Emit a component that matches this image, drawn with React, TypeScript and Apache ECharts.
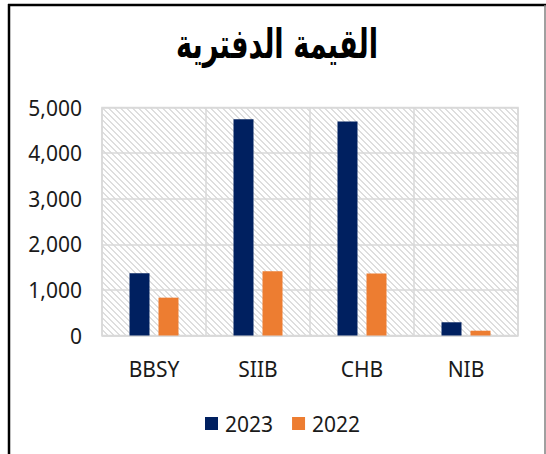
import React, { useEffect, useRef } from "react";
import * as echarts from "echarts";

const titleText = "القيمة الدفترية";
const categories = ["BBSY", "SIIB", "CHB", "NIB"];
const seriesNames = ["2023", "2022"];
const values2023 = [1365, 4740, 4695, 290];
const values2022 = [830, 1408, 1357, 105];
const yTicks = [0, 1000, 2000, 3000, 4000, 5000];

function makeHatch(): HTMLCanvasElement {
  const size = 6;
  const c = document.createElement("canvas");
  c.width = size;
  c.height = size;
  const ctx = c.getContext("2d")!;
  ctx.fillStyle = "#ffffff";
  ctx.fillRect(0, 0, size, size);
  ctx.fillStyle = "#dedede";
  for (let y = 0; y < size; y++) {
    for (let x = 0; x < size; x++) {
      const d = (((x - y) % size) + size) % size;
      if (d === 0 || d === 1) ctx.fillRect(x, y, 1, 1);
    }
  }
  return c;
}

export default function App() {
  const ref = useRef<HTMLDivElement>(null);
  useEffect(() => {
    if (!ref.current) return;
    const chart = echarts.init(ref.current, undefined, { renderer: "svg" });
    const hatch = makeHatch();
    const font = "'Noto Sans', sans-serif";
    chart.setOption({
      animation: false,
      backgroundColor: "#ffffff",
      graphic: [
        { type: "line", shape: { x1: 8, y1: 5, x2: 546, y2: 5 }, style: { stroke: "#000", lineWidth: 2.5 } },
        { type: "line", shape: { x1: 9, y1: 4, x2: 9, y2: 454 }, style: { stroke: "#000", lineWidth: 2.5 } },
        { type: "line", shape: { x1: 545, y1: 5, x2: 545, y2: 454 }, style: { stroke: "#808080", lineWidth: 1.5 } },
        {
          type: "text",
          x: 277,
          y: 44,
          scaleX: 0.8,
          scaleY: 1.2,
          style: {
            text: titleText,
            fontFamily: "'DejaVu Sans', sans-serif",
            fontWeight: "bold",
            fontSize: 34,
            fill: "#000000",
            textAlign: "center",
            textVerticalAlign: "middle",
          },
        },
      ],
      grid: {
        show: true,
        left: 102,
        right: 28,
        top: 107.5,
        bottom: 118.5,
        containLabel: false,
        backgroundColor: { image: hatch, repeat: "repeat", imageWidth: 6, imageHeight: 6 } as any,
        borderColor: "#d9d9d9",
        borderWidth: 1.5,
      },
      legend: {
        data: seriesNames,
        bottom: 15,
        left: 200,
        itemWidth: 13,
        itemHeight: 13,
        itemGap: 19,
        icon: "rect",
        textStyle: { fontFamily: font, fontSize: 21, color: "#1a1a1a", padding: [0, 0, 0, 2] },
      },
      xAxis: {
        type: "category",
        data: categories,
        axisLine: { show: true, lineStyle: { color: "#d9d9d9", width: 1.5 } },
        axisTick: { show: false },
        splitLine: { show: true, lineStyle: { color: "#d9d9d9", width: 1.5 } },
        axisLabel: { fontFamily: font, fontSize: 21, color: "#1a1a1a", margin: 23 },
      },
      yAxis: {
        type: "value",
        min: yTicks[0],
        max: yTicks[yTicks.length - 1],
        interval: yTicks[1] - yTicks[0],
        axisLine: { show: false },
        axisTick: { show: false },
        splitLine: { show: true, lineStyle: { color: "#d9d9d9", width: 1.5 } },
        axisLabel: {
          fontFamily: font,
          fontSize: 21,
          color: "#1a1a1a",
          margin: 20,
          formatter: (v: number) => v.toLocaleString("en-US"),
        },
      },
      series: [
        {
          name: seriesNames[0],
          type: "bar",
          data: values2023,
          barWidth: 20,
          barGap: "45%",
          itemStyle: { color: "#002060" },
        },
        {
          name: seriesNames[1],
          type: "bar",
          data: values2022,
          barWidth: 20,
          itemStyle: { color: "#ED7D31" },
        },
      ],
    });
    return () => chart.dispose();
  }, []);
  return (
    <div
      ref={ref}
      style={{ position: "absolute", left: 0, top: 0, width: 546, height: 454 }}
    />
  );
}
